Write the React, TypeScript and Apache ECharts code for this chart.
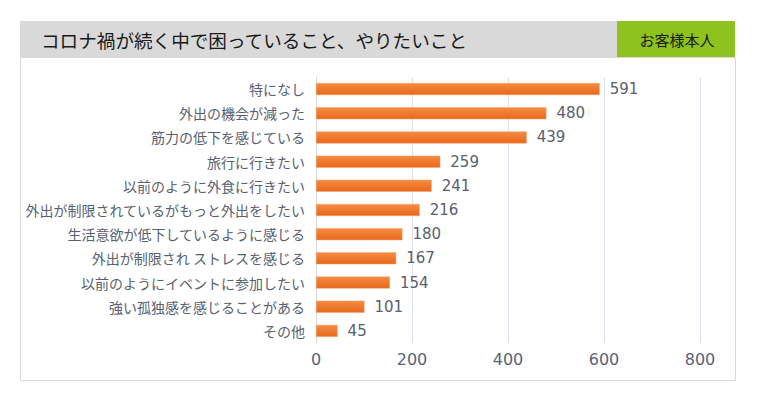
import React, { useEffect, useRef } from "react";
import * as echarts from "echarts";

const categories = [
  "特になし",
  "外出の機会が減った",
  "筋力の低下を感じている",
  "旅行に行きたい",
  "以前のように外食に行きたい",
  "外出が制限されているがもっと外出をしたい",
  "生活意欲が低下しているように感じる",
  "外出が制限され ストレスを感じる",
  "以前のようにイベントに参加したい",
  "強い孤独感を感じることがある",
  "その他",
];
const values = [591, 480, 439, 259, 241, 216, 180, 167, 154, 101, 45];
const titleText = "コロナ禍が続く中で困っていること、やりたいこと";
const badgeText = "お客様本人";

const CJK = "'Noto Sans CJK JP', 'Noto Sans', sans-serif";
const NUM = "'DejaVu Sans', 'Noto Sans CJK JP', sans-serif";

export default function App() {
  const ref = useRef<HTMLDivElement>(null);
  useEffect(() => {
    if (!ref.current) return;
    const chart = echarts.init(ref.current, undefined, { renderer: "svg" });
    chart.setOption({
      animation: false,
      backgroundColor: "#ffffff",
      graphic: [
        { type: "rect", shape: { x: 20, y: 21, width: 597, height: 36 }, style: { fill: "#d9d9d9" }, z: 0 },
        { type: "rect", shape: { x: 617, y: 21, width: 118, height: 36 }, style: { fill: "#8dc21f" }, z: 0 },
        { type: "rect", shape: { x: 20.5, y: 57.5, width: 715, height: 323 }, style: { fill: "none", stroke: "#d9d9d9", lineWidth: 1 }, z: 0 },
        { type: "text", x: 41, y: 39, style: { text: titleText, font: `18.6px ${CJK}`, fill: "#1a1a1a", verticalAlign: "middle", align: "left" }, z: 1 },
        { type: "text", x: 677, y: 39, style: { text: badgeText, font: `15px ${CJK}`, fill: "#1a1a1a", verticalAlign: "middle", align: "center" }, z: 1 },
      ],
      grid: { left: 316, right: 57, top: 77, bottom: 52, containLabel: false },
      xAxis: {
        type: "value",
        min: 0,
        max: 800,
        interval: 200,
        axisLine: { show: false },
        axisTick: { show: false },
        splitLine: { show: true, lineStyle: { color: "#dde3ec", width: 1 } },
        axisLabel: { color: "#5a6275", fontSize: 16, fontFamily: NUM, margin: 8 },
      },
      yAxis: {
        type: "category",
        inverse: true,
        data: categories,
        axisLine: { show: true, lineStyle: { color: "#d9d9d9" } },
        axisTick: { show: false },
        axisLabel: { color: "#596070", fontSize: 14, fontFamily: CJK, margin: 11 },
      },
      series: [
        {
          type: "bar",
          data: values,
          barWidth: 12,
          itemStyle: {
            color: new echarts.graphic.LinearGradient(0, 0, 0, 1, [
              { offset: 0, color: "#f58c42" },
              { offset: 1, color: "#e8681c" },
            ]),
            borderColor: "#f6a46a",
            borderWidth: 0.5,
          },
          label: {
            show: true,
            position: "right",
            distance: 10,
            color: "#596070",
            fontSize: 15,
            fontFamily: NUM,
          },
        },
      ],
    });
    return () => chart.dispose();
  }, []);
  return <div ref={ref} style={{ position: "fixed", left: 0, top: 0, width: 757, height: 395 }} />;
}
